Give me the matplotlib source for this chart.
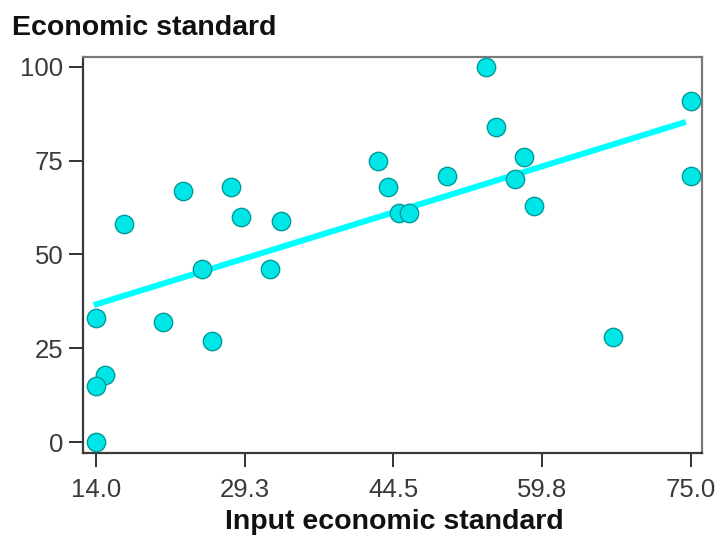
import matplotlib
matplotlib.use('Agg')
import matplotlib.pyplot as plt

# input economic standard vs economic standard
input_std = [16.9, 22.9, 27.9, 28.9, 33.0, 24.9, 31.9, 14.0, 20.9, 25.9, 15.0, 14.0, 14.0,
             54.0, 75.0, 55.0, 42.9, 44.0, 50.0, 57.9, 57.0, 58.9, 75.0, 45.1, 46.1, 67.0]
econ_std = [58, 67, 68, 60, 59, 46, 46, 33, 32, 27, 18, 15, 0,
            100, 91, 84, 75, 68, 71, 76, 70, 63, 71, 61, 61, 28]

# fitted trend line
fit_x = [13.8, 74.5]
fit_y = [36.5, 85.3]

x_ticks = [14.0, 29.3, 44.5, 59.8, 75.0]
x_tick_labels = ['14.0', '29.3', '44.5', '59.8', '75.0']
y_ticks = [0, 25, 50, 75, 100]

plt.rcParams['font.family'] = ['Liberation Sans', 'DejaVu Sans']

fig = plt.figure(figsize=(7.2, 5.36), dpi=100)
ax = fig.add_axes([0.1153, 0.1549, 0.8597, 0.7388])

ax.plot(fit_x, fit_y, color='#00ffff', lw=4.3, solid_capstyle='butt', zorder=2)
ax.scatter(input_std, econ_std, s=175, c='#00e6e6', edgecolors='#009a9a',
           linewidths=1.0, zorder=3)

ax.set_xlim(12.7, 76.16)
ax.set_ylim(-2.9, 102.6)
ax.set_xticks(x_ticks)
ax.set_xticklabels(x_tick_labels)
ax.set_yticks(y_ticks)

ax.tick_params(direction='out', length=10, width=1.4, color='#333333',
               labelsize=18.5, labelcolor='#3a3a3a')
ax.tick_params(axis='x', pad=8)
ax.tick_params(axis='y', pad=4)

for side in ['left', 'bottom']:
    ax.spines[side].set_color('#3a3a3a')
    ax.spines[side].set_linewidth(1.6)
for side in ['top', 'right']:
    ax.spines[side].set_color('#7a7a7a')
    ax.spines[side].set_linewidth(1.6)

fig.text(12 / 720, 1 - 15 / 536, 'Economic standard', fontsize=20.5,
         fontweight='bold', color='#111111', ha='left', va='top')
fig.text(394 / 720, 1 - 529 / 536, 'Input economic standard', fontsize=20.5,
         fontweight='bold', color='#111111', ha='center', va='baseline')

fig.savefig('out.png', dpi=100)
